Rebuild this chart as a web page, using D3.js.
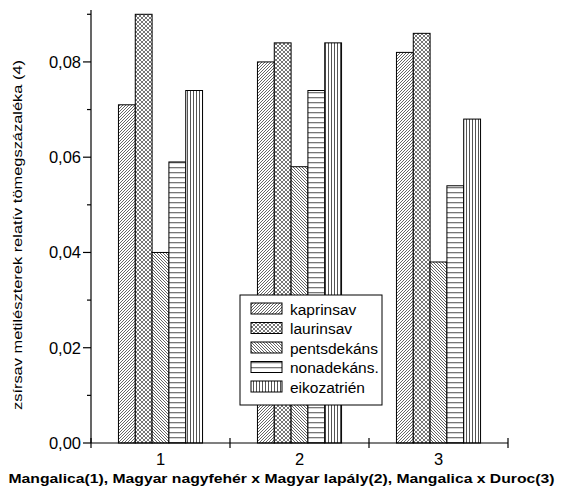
<!DOCTYPE html>
<html>
<head>
<meta charset="utf-8">
<script src="https://cdn.jsdelivr.net/npm/d3@7"></script>
<style>
  html, body { margin: 0; padding: 0; background: #fff; }
  svg { display: block; font-family: "Liberation Sans", Arial, sans-serif; }
</style>
</head>
<body>
<svg id="chart" width="563" height="493"></svg>
<script>
// Fatty-acid methyl ester relative mass percentages per breed group
const categories = ["1", "2", "3"];
const seriesNames = ["kaprinsav", "laurinsav", "pentsdekáns", "nonadekáns.", "eikozatrién"];
const kaprinsav   = [0.071, 0.080, 0.082];
const laurinsav   = [0.090, 0.084, 0.086];
const pentsdekans = [0.040, 0.058, 0.038];
const nonadekans  = [0.059, 0.074, 0.054];
const eikozatrien = [0.074, 0.084, 0.068];
const seriesValues = [kaprinsav, laurinsav, pentsdekans, nonadekans, eikozatrien];
const yTickValues = [0, 0.02, 0.04, 0.06, 0.08];
const yMinorTicks = [0.01, 0.03, 0.05, 0.07, 0.09];
const xTitle = "Mangalica(1), Magyar nagyfehér x Magyar lapály(2), Mangalica x Duroc(3)";
const yTitle = "zsírsav metilészterek relatív tömegszázaléka (4)";

const svg = d3.select("#chart");
const margin = { left: 91, right: 55, top: 10, bottom: 50 };
const W = 563, H = 493;
const x0 = margin.left, x1 = W - margin.right;
const yBase = 443, yTop = 10;

// hatch patterns for each series
const defs = svg.append("defs");
function pat(id, w, h, draw) {
  const p = defs.append("pattern").attr("id", id).attr("patternUnits", "userSpaceOnUse")
    .attr("width", w).attr("height", h);
  p.append("rect").attr("width", w).attr("height", h).attr("fill", "#fff");
  draw(p);
}
pat("p0", 3, 3, p => {
  p.append("path").attr("d", "M0,3 L3,0 M-1,1 L1,-1 M2,4 L4,2").attr("stroke", "#666").attr("stroke-width", 1);
});
pat("p1", 4, 4, p => {
  p.append("path").attr("d", "M0,0 L4,4 M4,0 L0,4").attr("stroke", "#777").attr("stroke-width", 1);
});
pat("p2", 3, 3, p => {
  p.append("path").attr("d", "M0,0 L3,3 M-1,2 L1,4 M2,-1 L4,1").attr("stroke", "#666").attr("stroke-width", 1);
});
pat("p3", 4, 5, p => {
  p.append("rect").attr("x", 0).attr("y", 2).attr("width", 4).attr("height", 1.3).attr("fill", "#777");
});
pat("p4", 3, 4, p => {
  p.append("rect").attr("x", 1).attr("y", 0).attr("width", 1).attr("height", 4).attr("fill", "#555");
});

const x = d3.scaleBand().domain(categories).range([x0, x1]);
const xs = d3.scaleBand().domain(d3.range(seriesNames.length)).range([0, x.bandwidth() * 0.605]);
const y = d3.scaleLinear().domain([0, 0.0909]).range([yBase, yTop]);

// bars
categories.forEach((c, ci) => {
  const gx = x(c) + (x.bandwidth() - xs.range()[1]) / 2;
  seriesValues.forEach((vals, si) => {
    svg.append("rect")
      .attr("x", gx + xs(si))
      .attr("y", y(vals[ci]))
      .attr("width", xs.bandwidth())
      .attr("height", yBase - y(vals[ci]))
      .attr("fill", `url(#p${si})`)
      .attr("stroke", "#000")
      .attr("stroke-width", 1);
  });
});

// y axis
const yAxis = svg.append("g").attr("transform", `translate(${x0},0)`);
yAxis.append("line").attr("x1", 0).attr("x2", 0).attr("y1", yTop).attr("y2", yBase).attr("stroke", "#000").attr("stroke-width", 1.2);
yAxis.selectAll(".maj").data(yTickValues).enter().append("line")
  .attr("x1", -8).attr("x2", 0).attr("y1", d => y(d)).attr("y2", d => y(d)).attr("stroke", "#000").attr("stroke-width", 1.2);
yAxis.selectAll(".min").data(yMinorTicks).enter().append("line")
  .attr("x1", -4).attr("x2", 0).attr("y1", d => y(d)).attr("y2", d => y(d)).attr("stroke", "#000").attr("stroke-width", 1.2);
yAxis.selectAll(".lab").data(yTickValues).enter().append("text")
  .attr("x", -10).attr("y", d => y(d)).attr("dy", "0.36em").attr("text-anchor", "end")
  .attr("font-size", 16.5).text(d => d3.format(".2f")(d).replace(".", ","));

// x axis: ticks at band boundaries, labels at band centres
const xAxis = svg.append("g");
xAxis.append("line").attr("x1", x0).attr("x2", x1).attr("y1", yBase).attr("y2", yBase).attr("stroke", "#000").attr("stroke-width", 1.2);
const bounds = categories.map(c => x(c)).concat([x1]);
xAxis.selectAll(".tk").data(bounds).enter().append("line")
  .attr("x1", d => d).attr("x2", d => d).attr("y1", yBase - 5).attr("y2", yBase + 5).attr("stroke", "#000").attr("stroke-width", 1.2);
xAxis.selectAll(".lab").data(categories).enter().append("text")
  .attr("x", d => x(d) + x.bandwidth() / 2).attr("y", yBase + 22).attr("text-anchor", "middle")
  .attr("font-size", 16.5).text(d => d);

// titles
svg.append("text").attr("x", 281.5).attr("y", 483).attr("text-anchor", "middle")
  .attr("font-size", 13).attr("font-weight", "bold")
  .attr("textLength", 546).attr("lengthAdjust", "spacingAndGlyphs").text(xTitle);
svg.append("text").attr("transform", `translate(22,235) rotate(-90)`)
  .attr("text-anchor", "middle").attr("font-size", 13)
  .attr("textLength", 350).attr("lengthAdjust", "spacingAndGlyphs").text(yTitle);

// legend
const lg = svg.append("g").attr("transform", "translate(240,295)");
lg.append("rect").attr("width", 142).attr("height", 110).attr("fill", "#fff").attr("stroke", "#000").attr("stroke-width", 1);
seriesNames.forEach((n, i) => {
  const ry = 8 + i * 19.5;
  lg.append("rect").attr("x", 11).attr("y", ry).attr("width", 31).attr("height", 11)
    .attr("fill", `url(#p${i})`).attr("stroke", "#000").attr("stroke-width", 1);
  lg.append("text").attr("x", 50).attr("y", ry + 6).attr("dy", "0.36em").attr("font-size", 15.5).text(n);
});
</script>
</body>
</html>
